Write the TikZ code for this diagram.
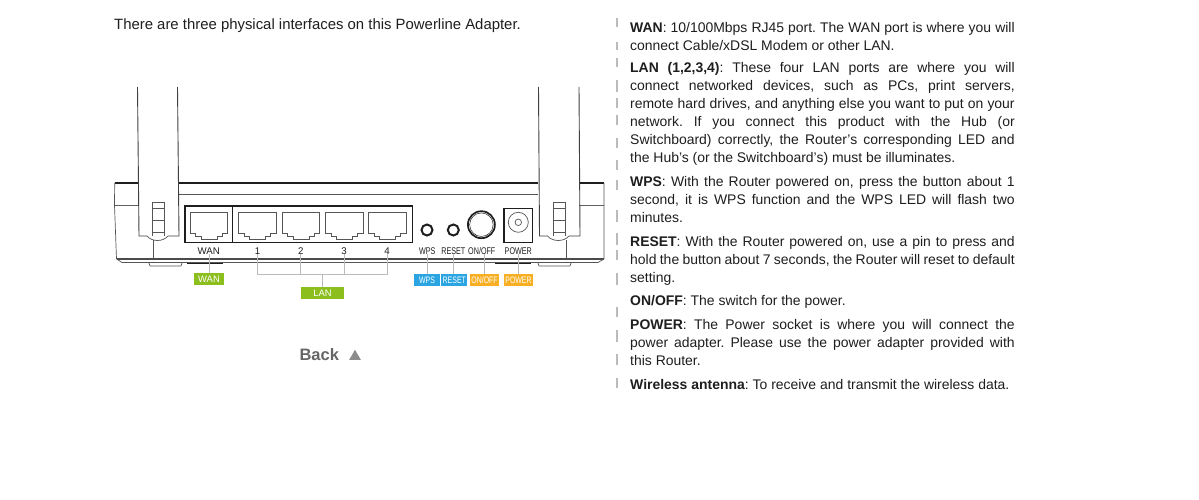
\documentclass[tikz,border=0pt]{standalone}
\usepackage{fontspec}
\usetikzlibrary{shapes.geometric}
\setmainfont{Liberation Sans}
\definecolor{lime}{HTML}{8CBE1E}
\definecolor{sky}{HTML}{2AA5E2}
\definecolor{amber}{HTML}{F9AF24}
\definecolor{lead}{HTML}{BBBBBB}
\definecolor{ink}{HTML}{1E1E1E}
\newcommand{\jl}[1]{\hbox to 384.5pt{#1}}
\newcommand{\narrow}[1]{\scalebox{0.74}[1]{#1}}
\tikzset{
 x=1pt,y=-1pt,
 outline/.style={draw=ink,line width=0.9pt},
 thick outline/.style={draw=ink,line width=1.4pt},
 thin outline/.style={draw=ink!75,line width=0.7pt},
 button/.style={circle,draw=ink,line width=2pt,inner sep=0pt},
 para/.style={anchor=north west,inner sep=0pt,font=\fontsize{13.95}{18}\selectfont\frenchspacing,text=ink,align=left},
 portlabel/.style={font=\fontsize{9.7}{10}\selectfont,text=ink,inner sep=0pt},
 tag/.style={font=\fontsize{9.4}{10}\selectfont,text=white,inner sep=0pt,minimum height=11.7pt},
 leadline/.style={draw=lead,line width=1pt},
 tick/.style={draw=lead,line width=2pt},
}
\newcommand{\rj}[2]{% x left, y top: RJ45 port outline
 \draw[thin outline,shift={(#1,#2)}] (0,0) -- (37.7,0) -- (37.7,21) -- (32,21) -- (32,23.5) -- (27,23.5) -- (27,26.5) -- (11,26.5) -- (11,23.5) -- (5.7,23.5) -- (5.7,21) -- (0,21) -- cycle;}
\begin{document}
\begin{tikzpicture}
\useasboundingbox (0,0) rectangle (1199,500);
\fill[white] (0,0) rectangle (1199,500);
% intro
\node[para,anchor=west,font=\fontsize{14.9}{16}\selectfont\frenchspacing] (intro) at (114,25.5) {There are three physical interfaces on this Powerline Adapter.};
% case
\draw[thick outline] (114.5,183) -- (137.5,183);
\draw[thick outline] (178,183) -- (538,183);
\draw[thick outline] (579,183) -- (604,183);
\draw[thin outline] (178,194.5) -- (538,194.5);
\draw[thin outline] (114.7,183) -- (114.5,205) (604,183) -- (604,205);
\draw[draw=ink!70,line width=1.1pt] (114.5,205.3) -- (138,205.3);
\draw[draw=ink!70,line width=1.1pt] (579,205.3) -- (604,205.3);
\draw[thin outline] (114.5,205) -- (116.5,259) (604,205) -- (604,259);
\draw[draw=ink!80,line width=1.2pt] (116.5,259) -- (604,259);
\draw[thin outline] (116.5,259) -- (122,262.5) -- (598,262.5) -- (604,259);
\draw[thin outline] (149,263) -- (150,266) -- (181,266) -- (182,263);
\draw[thin outline] (538,263) -- (539,266) -- (570,266) -- (571,263);
\draw[outline] (187,263.7) -- (223,263.7);
\draw[outline] (495,263.7) -- (531,263.7);
\draw[thin outline] (153,240) -- (153,259);
\draw[thin outline] (566.7,240) -- (566.7,259);
% antennas
\foreach \l/\r/\ls/\rs in {137.5/177.5/139/179,538.5/579/539.5/580}{
 \draw[outline,draw=ink!85] (\l,87) -- (\ls,236) -- (\ls+8,236);
 \draw[outline,draw=ink!85] (\r,87) -- (\rs,236) -- (\rs-11,236);
 \draw[thin outline] (\ls+8,236) .. controls (\ls+13,242) and (\rs-16,242) .. (\rs-11,236);
 \draw[thin outline] (\l+14.8,236) -- (\l+14.8,202.7) -- (\l+27.3,202.7) -- (\l+27.3,236);
 \draw[thin outline] (\l+14.8,208) -- (\l+27.3,208) (\l+14.8,220) -- (\l+27.3,220) (\l+14.8,232) -- (\l+27.3,232);
}
% port block
\draw[thick outline] (185,206) rectangle (412.7,242.7);
\draw[outline] (232.4,206) -- (232.4,242.7);
\rj{190}{212.7}\rj{238.8}{212.7}\rj{282}{212.7}\rj{325.2}{212.7}\rj{368.4}{212.7}
% controls
\node[button,minimum size=11pt] (wpsbtn) at (427,230) {};
\node[button,minimum size=11pt] (resetbtn) at (453.3,230) {};
\node[button,line width=1.7pt,minimum size=27pt] (onoff) at (481.4,224.7) {};
\node[circle,draw=ink,line width=0.5pt,minimum size=23.5pt,inner sep=0pt] (onoffin) at (481.4,224.7) {};
\draw[thick outline] (504,208.3) rectangle (532.6,242.5);
\node[circle,thin outline,minimum size=20pt,inner sep=0pt] (powerring) at (518.3,222.3) {};
\node[circle,thin outline,minimum size=6.5pt,inner sep=0pt] (powerpin) at (518.3,222.3) {};
% port labels
\node[portlabel] (lwan) at (208.7,250.7) {WAN};
\node[portlabel] (l1) at (257.5,250.7) {1};
\node[portlabel] (l2) at (300.7,250.7) {2};
\node[portlabel] (l3) at (344,250.7) {3};
\node[portlabel] (l4) at (387,250.7) {4};
\node[portlabel] (lwps) at (427.2,250.7) {\narrow{WPS}};
\node[portlabel] (lreset) at (453.3,250.7) {\narrow{RESET}};
\node[portlabel] (lonoff) at (481.8,250.7) {\narrow{ON/OFF}};
\node[portlabel] (lpower) at (518.3,250.7) {\narrow{POWER}};
% tags
\node[tag,fill=lime,minimum width=30pt] (twan) at (209,279.2) {WAN};
\node[tag,fill=lime,minimum width=42.4pt] (tlan) at (322.5,293.3) {LAN};
\node[tag,fill=sky,minimum width=26pt] (twps) at (427,280) {\narrow{WPS}};
\node[tag,fill=sky,minimum width=26pt] (treset) at (454.3,280) {\narrow{RESET}};
\node[tag,fill=amber,minimum width=29.3pt] (tonoff) at (484.6,280) {\narrow{ON/OFF}};
\node[tag,fill=amber,minimum width=29pt] (tpower) at (518.5,280) {\narrow{POWER}};
% leads
\coordinate (busl) at (l1 |- 0,274.5);
\coordinate (busr) at (l4 |- 0,274.5);
\draw[leadline] (lwan.south -| twan) -- (twan.north);
\draw[leadline] (l1.south) -- (busl) -- (busr) -- (l4.south);
\draw[leadline] (l2.south) -- (l2 |- busl);
\draw[leadline] (l3.south) -- (l3 |- busl);
\draw[leadline] (tlan |- busl) -- (tlan.north);
\draw[leadline] (lwps.south) -- (lwps |- twps.north);
\draw[leadline] (lreset.south) -- (lreset |- treset.north);
\draw[leadline] (lonoff.south -| tonoff) -- (tonoff.north);
\draw[leadline] (lpower.south) -- (lpower |- tpower.north);
% back
\node[inner sep=0pt,text=black!60,font=\fontsize{16.5}{18}\bfseries\selectfont] (back) at (319.3,355) {Back};
\node[regular polygon,regular polygon sides=3,fill=black!45,inner sep=0pt,minimum size=13.5pt] (tri) at (355,356.5) {};
% right column
\foreach \a/\b in {18/27,42/50,58/67,80/92,98/108,115/125,138/148,160/170,180/190,210/222,233/245,250/260,273/285,307/317,330/342,354/365,378/388}{
 \draw[tick] (617,\a) -- (617,\b);}
\node[para] (pwan) at (630,22) {\jl{\textbf{WAN}: 10/100Mbps RJ45 port. The WAN port is where you will}\\connect Cable/xDSL Modem or other LAN.};
\node[para] (plan) at (630,62.3) {\jl{\textbf{LAN (1,2,3,4)}: These four LAN ports are where you will}\\
\jl{connect networked devices, such as PCs, print servers,}\\
\jl{remote hard drives, and anything else you want to put on your}\\
\jl{network. If you connect this product with the Hub (or}\\
\jl{Switchboard) correctly, the Router’s corresponding LED and}\\
the Hub’s (or the Switchboard’s) must be illuminates.};
\node[para] (pwps) at (630,176.3) {\jl{\textbf{WPS}: With the Router powered on, press the button about 1}\\
\jl{second, it is WPS function and the WPS LED will flash two}\\
minutes.};
\node[para] (preset) at (630,236.3) {\jl{\textbf{RESET}: With the Router powered on, use a pin to press and}\\
\jl{hold the button about 7 seconds, the Router will reset to default}\\
setting.};
\node[para] (ponoff) at (630,295.3) {\textbf{ON/OFF}: The switch for the power.};
\node[para] (ppower) at (630,319.3) {\jl{\textbf{POWER}: The Power socket is where you will connect the}\\
\jl{power adapter. Please use the power adapter provided with}\\
this Router.};
\node[para] (pant) at (630,379.3) {\textbf{Wireless antenna}: To receive and transmit the wireless data.};
\end{tikzpicture}
\end{document}
